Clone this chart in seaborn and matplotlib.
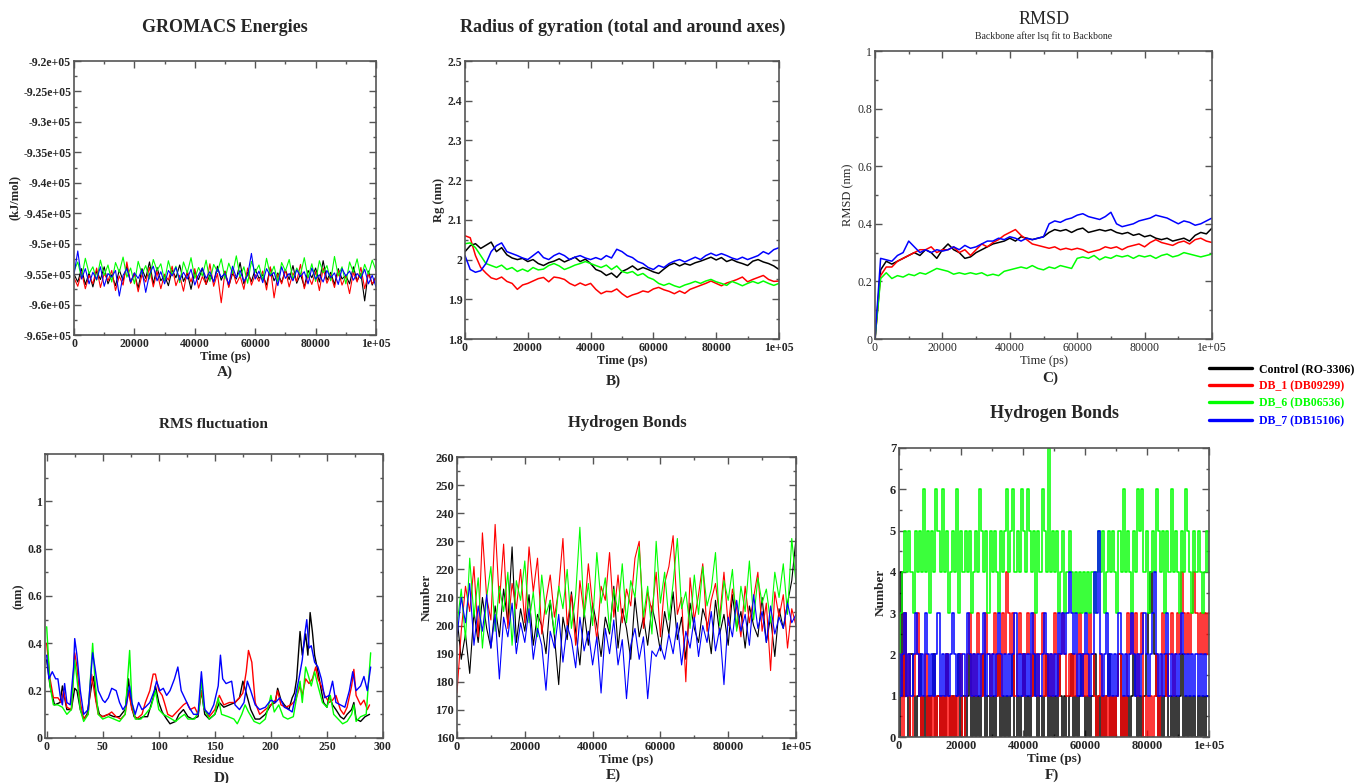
import numpy as np
import matplotlib
matplotlib.use("Agg")
import matplotlib.pyplot as plt
from matplotlib.lines import Line2D
import seaborn as sns

# ---- values ----
series_names = ["Control (RO-3306)", "DB_1 (DB09299)", "DB_6 (DB06536)", "DB_7 (DB15106)"]
series_colors = ["#000000", "#ff0000", "#00ff00", "#0000ff"]
time_ticks = [0, 20000, 40000, 60000, 80000, 100000]

# A) GROMACS energies, in units of 1e5 kJ/mol, evenly spaced over 0-100000 ps
energy_control = [-9.550, -9.563, -9.541, -9.567, -9.548, -9.571, -9.545, -9.559, -9.538, -9.566, -9.551, -9.569,
                  -9.543, -9.561, -9.537, -9.564, -9.549, -9.573, -9.541, -9.557, -9.530, -9.566, -9.539, -9.561,
                  -9.552, -9.569, -9.543, -9.556, -9.535, -9.562, -9.548, -9.575, -9.546, -9.559, -9.540, -9.567,
                  -9.551, -9.563, -9.537, -9.560, -9.545, -9.570, -9.549, -9.558, -9.531, -9.566, -9.547, -9.562,
                  -9.542, -9.557, -9.551, -9.568, -9.539, -9.561, -9.548, -9.564, -9.543, -9.559, -9.536, -9.565,
                  -9.550, -9.571, -9.544, -9.556, -9.540, -9.563, -9.528, -9.560, -9.547, -9.567, -9.541, -9.558,
                  -9.552, -9.566, -9.538, -9.561, -9.549, -9.594, -9.545, -9.568, -9.553]
energy_db1 = [-9.556, -9.570, -9.547, -9.574, -9.552, -9.566, -9.540, -9.572, -9.549, -9.561, -9.544, -9.577,
              -9.553, -9.568, -9.530, -9.565, -9.548, -9.579, -9.551, -9.563, -9.539, -9.571, -9.546, -9.574,
              -9.550, -9.560, -9.537, -9.569, -9.552, -9.578, -9.545, -9.563, -9.541, -9.573, -9.554, -9.567,
              -9.533, -9.570, -9.549, -9.597, -9.546, -9.572, -9.543, -9.566, -9.553, -9.575, -9.540, -9.568,
              -9.551, -9.562, -9.545, -9.576, -9.538, -9.589, -9.550, -9.566, -9.543, -9.571, -9.548, -9.562,
              -9.534, -9.574, -9.552, -9.567, -9.546, -9.577, -9.540, -9.565, -9.551, -9.572, -9.544, -9.568,
              -9.553, -9.582, -9.547, -9.563, -9.539, -9.574, -9.549, -9.566, -9.556]
energy_db6 = [-9.545, -9.530, -9.556, -9.524, -9.549, -9.538, -9.560, -9.527, -9.552, -9.535, -9.563, -9.531,
              -9.547, -9.522, -9.555, -9.540, -9.566, -9.529, -9.550, -9.536, -9.558, -9.526, -9.544, -9.533,
              -9.561, -9.528, -9.551, -9.537, -9.564, -9.530, -9.548, -9.523, -9.557, -9.539, -9.553, -9.527,
              -9.562, -9.534, -9.546, -9.525, -9.558, -9.532, -9.549, -9.520, -9.555, -9.538, -9.565, -9.529,
              -9.547, -9.535, -9.560, -9.524, -9.552, -9.537, -9.563, -9.531, -9.545, -9.526, -9.559, -9.540,
              -9.551, -9.523, -9.556, -9.533, -9.562, -9.528, -9.548, -9.536, -9.561, -9.521, -9.553, -9.538,
              -9.566, -9.530, -9.547, -9.525, -9.557, -9.534, -9.550, -9.527, -9.544]
energy_db7 = [-9.551, -9.512, -9.558, -9.541, -9.566, -9.547, -9.559, -9.538, -9.570, -9.549, -9.555, -9.544,
              -9.586, -9.552, -9.541, -9.563, -9.548, -9.557, -9.543, -9.580, -9.550, -9.537, -9.561, -9.546,
              -9.566, -9.544, -9.553, -9.539, -9.560, -9.547, -9.558, -9.542, -9.568, -9.551, -9.540, -9.557,
              -9.546, -9.563, -9.541, -9.555, -9.549, -9.567, -9.537, -9.556, -9.544, -9.562, -9.552, -9.516,
              -9.558, -9.545, -9.564, -9.541, -9.553, -9.547, -9.569, -9.538, -9.557, -9.549, -9.561, -9.543,
              -9.554, -9.546, -9.566, -9.540, -9.558, -9.551, -9.563, -9.544, -9.556, -9.548, -9.567, -9.541,
              -9.553, -9.545, -9.560, -9.549, -9.557, -9.542, -9.566, -9.552, -9.571]

# B) radius of gyration (nm)
rg_control = [2.02, 2.035, 2.04, 2.028, 2.036, 2.044, 2.02, 2.03, 2.012, 2.004, 2.0, 2.003, 1.995, 2.0, 1.99, 1.985,
              1.992, 1.996, 2.002, 1.994, 2.0, 2.006, 1.995, 2.001, 1.99, 1.975, 1.97, 1.96, 1.966, 1.955, 1.97,
              1.976, 1.984, 1.974, 1.98, 1.975, 1.969, 1.965, 1.976, 1.986, 1.991, 1.984, 1.99, 1.986, 1.992, 1.996,
              2.001, 2.006, 1.999, 2.005, 1.995, 2.0, 1.994, 1.99, 1.985, 1.996, 2.0, 1.994, 1.99, 1.984, 1.975]
rg_db1 = [2.06, 2.055, 2.01, 1.98, 1.966, 1.954, 1.95, 1.956, 1.945, 1.94, 1.925, 1.936, 1.94, 1.946, 1.952, 1.955,
          1.944, 1.956, 1.954, 1.95, 1.94, 1.934, 1.941, 1.935, 1.94, 1.925, 1.914, 1.92, 1.919, 1.926, 1.914,
          1.905, 1.911, 1.915, 1.921, 1.918, 1.926, 1.93, 1.924, 1.92, 1.914, 1.921, 1.915, 1.925, 1.93, 1.935,
          1.94, 1.946, 1.94, 1.934, 1.941, 1.945, 1.95, 1.956, 1.944, 1.95, 1.955, 1.96, 1.95, 1.945, 1.946]
rg_db6 = [2.04, 2.042, 2.03, 2.01, 1.99, 1.985, 1.98, 1.986, 1.975, 1.98, 1.97, 1.976, 1.97, 1.98, 1.974, 1.976,
          1.985, 1.99, 1.984, 1.975, 1.98, 1.986, 1.99, 1.995, 1.99, 1.985, 1.98, 1.986, 1.975, 1.984, 1.97, 1.966,
          1.97, 1.96, 1.965, 1.955, 1.95, 1.94, 1.935, 1.94, 1.934, 1.93, 1.936, 1.94, 1.945, 1.94, 1.946, 1.95,
          1.944, 1.94, 1.935, 1.945, 1.94, 1.934, 1.94, 1.945, 1.94, 1.946, 1.94, 1.935, 1.94]
rg_db7 = [2.01, 1.975, 1.968, 1.972, 1.99, 2.02, 2.035, 2.042, 2.02, 2.015, 2.01, 2.004, 2.0, 2.01, 2.02, 2.005,
          2.0, 2.01, 2.016, 2.01, 2.0, 2.006, 2.01, 2.004, 2.0, 2.005, 2.0, 2.01, 2.004, 2.026, 2.02, 2.01, 2.005,
          1.995, 1.99, 1.98, 1.975, 1.985, 1.98, 1.99, 1.996, 2.0, 1.994, 2.0, 2.006, 2.0, 2.01, 2.016, 2.01,
          2.015, 2.01, 2.004, 2.0, 2.006, 2.0, 2.005, 2.01, 2.02, 2.014, 2.025, 2.03]

# C) backbone RMSD (nm)
rmsd_control = [0.0, 0.24, 0.27, 0.26, 0.27, 0.28, 0.29, 0.30, 0.29, 0.31, 0.30, 0.28, 0.31, 0.33, 0.31, 0.30, 0.28,
                0.285, 0.30, 0.31, 0.32, 0.33, 0.335, 0.34, 0.35, 0.34, 0.355, 0.35, 0.345, 0.35, 0.355, 0.37, 0.38,
                0.375, 0.38, 0.37, 0.38, 0.385, 0.37, 0.375, 0.38, 0.375, 0.38, 0.37, 0.365, 0.37, 0.36, 0.365,
                0.355, 0.36, 0.35, 0.345, 0.35, 0.34, 0.345, 0.35, 0.34, 0.36, 0.37, 0.365, 0.385]
rmsd_db1 = [0.0, 0.22, 0.25, 0.25, 0.27, 0.28, 0.29, 0.30, 0.31, 0.31, 0.32, 0.30, 0.31, 0.31, 0.32, 0.30, 0.31,
            0.29, 0.31, 0.33, 0.32, 0.335, 0.345, 0.36, 0.37, 0.38, 0.36, 0.345, 0.33, 0.325, 0.32, 0.315, 0.32,
            0.31, 0.315, 0.31, 0.315, 0.31, 0.30, 0.305, 0.31, 0.32, 0.315, 0.32, 0.31, 0.32, 0.325, 0.33, 0.32,
            0.335, 0.345, 0.335, 0.33, 0.325, 0.335, 0.34, 0.33, 0.345, 0.35, 0.34, 0.335]
rmsd_db6 = [0.0, 0.21, 0.23, 0.21, 0.22, 0.215, 0.225, 0.22, 0.23, 0.225, 0.235, 0.245, 0.24, 0.235, 0.225, 0.23,
            0.225, 0.23, 0.225, 0.23, 0.22, 0.225, 0.22, 0.235, 0.24, 0.245, 0.25, 0.245, 0.255, 0.245, 0.24, 0.25,
            0.245, 0.255, 0.25, 0.245, 0.28, 0.285, 0.28, 0.29, 0.275, 0.285, 0.28, 0.29, 0.285, 0.29, 0.28, 0.29,
            0.285, 0.29, 0.28, 0.29, 0.295, 0.285, 0.29, 0.30, 0.295, 0.29, 0.285, 0.29, 0.295]
rmsd_db7 = [0.0, 0.28, 0.275, 0.27, 0.29, 0.30, 0.34, 0.32, 0.30, 0.31, 0.30, 0.31, 0.305, 0.31, 0.32, 0.31, 0.325,
            0.315, 0.32, 0.33, 0.34, 0.34, 0.35, 0.345, 0.355, 0.35, 0.34, 0.35, 0.345, 0.35, 0.355, 0.40, 0.41,
            0.405, 0.415, 0.42, 0.43, 0.435, 0.425, 0.42, 0.415, 0.425, 0.44, 0.40, 0.39, 0.395, 0.40, 0.41, 0.415,
            0.42, 0.43, 0.425, 0.42, 0.41, 0.40, 0.41, 0.405, 0.395, 0.40, 0.41, 0.42]

# D) RMS fluctuation (nm), (residue, value) pairs
rmsf_control = [(0, 0.33), (3, 0.22), (7, 0.14), (12, 0.15), (14, 0.22), (18, 0.12), (22, 0.12), (25, 0.21),
                (27, 0.20), (30, 0.12), (33, 0.08), (36, 0.10), (40, 0.22), (42, 0.26), (44, 0.16), (47, 0.10),
                (50, 0.09), (55, 0.10), (60, 0.09), (65, 0.09), (70, 0.12), (73, 0.25), (75, 0.15), (78, 0.09),
                (82, 0.08), (86, 0.09), (90, 0.09), (95, 0.17), (97, 0.22), (100, 0.15), (103, 0.11), (107, 0.08),
                (110, 0.06), (115, 0.07), (118, 0.10), (122, 0.12), (126, 0.09), (130, 0.08), (135, 0.09),
                (138, 0.20), (141, 0.10), (145, 0.08), (150, 0.10), (154, 0.15), (158, 0.13), (163, 0.14),
                (168, 0.15), (172, 0.17), (175, 0.24), (178, 0.19), (182, 0.12), (186, 0.08), (190, 0.08),
                (195, 0.10), (200, 0.14), (204, 0.15), (206, 0.21), (209, 0.16), (212, 0.14), (216, 0.12),
                (219, 0.17), (221, 0.19), (223, 0.25), (226, 0.45), (228, 0.35), (231, 0.44), (233, 0.35),
                (235, 0.53), (237, 0.45), (239, 0.35), (242, 0.28), (245, 0.20), (247, 0.15), (250, 0.13),
                (252, 0.18), (255, 0.14), (258, 0.12), (262, 0.09), (265, 0.08), (268, 0.10), (272, 0.12),
                (274, 0.15), (276, 0.08), (280, 0.07), (284, 0.09), (288, 0.10)]
rmsf_db1 = [(0, 0.40), (3, 0.25), (6, 0.17), (10, 0.17), (13, 0.15), (15, 0.20), (18, 0.13), (22, 0.12),
            (25, 0.36), (27, 0.30), (30, 0.15), (33, 0.08), (37, 0.10), (40, 0.27), (43, 0.18), (46, 0.10),
            (50, 0.09), (55, 0.10), (58, 0.11), (62, 0.09), (66, 0.08), (70, 0.10), (73, 0.20), (76, 0.12),
            (80, 0.08), (85, 0.10), (88, 0.15), (92, 0.20), (95, 0.27), (97, 0.27), (100, 0.20), (103, 0.18),
            (105, 0.15), (108, 0.10), (112, 0.09), (118, 0.12), (122, 0.14), (125, 0.15), (128, 0.12),
            (132, 0.13), (135, 0.10), (138, 0.20), (141, 0.12), (145, 0.09), (150, 0.12), (154, 0.18),
            (158, 0.14), (163, 0.15), (168, 0.15), (172, 0.17), (175, 0.19), (178, 0.28), (180, 0.37),
            (183, 0.32), (186, 0.15), (190, 0.10), (195, 0.12), (200, 0.14), (204, 0.16), (206, 0.20),
            (209, 0.14), (213, 0.13), (218, 0.14), (222, 0.16), (226, 0.22), (228, 0.18), (231, 0.25),
            (234, 0.23), (237, 0.25), (240, 0.30), (242, 0.25), (245, 0.22), (248, 0.18), (252, 0.15),
            (255, 0.16), (258, 0.18), (262, 0.12), (265, 0.10), (268, 0.13), (272, 0.22), (274, 0.29),
            (276, 0.18), (280, 0.14), (283, 0.16), (286, 0.12), (288, 0.14)]
rmsf_db6 = [(0, 0.47), (3, 0.22), (6, 0.14), (10, 0.14), (14, 0.13), (18, 0.10), (22, 0.12), (25, 0.33),
            (27, 0.25), (30, 0.12), (33, 0.07), (37, 0.10), (41, 0.40), (43, 0.25), (46, 0.10), (50, 0.08),
            (55, 0.09), (60, 0.08), (65, 0.07), (70, 0.10), (74, 0.37), (76, 0.15), (79, 0.08), (84, 0.08),
            (88, 0.10), (93, 0.13), (97, 0.20), (100, 0.12), (104, 0.10), (108, 0.09), (115, 0.07), (120, 0.09),
            (123, 0.10), (126, 0.08), (132, 0.08), (136, 0.12), (138, 0.25), (140, 0.13), (145, 0.08),
            (150, 0.10), (153, 0.17), (156, 0.10), (162, 0.09), (167, 0.08), (170, 0.06), (174, 0.10),
            (177, 0.14), (180, 0.11), (185, 0.07), (190, 0.06), (195, 0.08), (200, 0.18), (203, 0.11),
            (207, 0.14), (211, 0.09), (215, 0.08), (220, 0.09), (224, 0.20), (226, 0.24), (228, 0.15),
            (231, 0.30), (233, 0.27), (236, 0.22), (239, 0.28), (242, 0.22), (246, 0.15), (250, 0.13),
            (253, 0.18), (256, 0.10), (260, 0.08), (264, 0.06), (268, 0.07), (272, 0.10), (274, 0.14),
            (276, 0.07), (280, 0.09), (285, 0.10), (289, 0.36)]
rmsf_db7 = [(0, 0.35), (2, 0.25), (5, 0.28), (8, 0.25), (10, 0.25), (12, 0.18), (14, 0.14), (16, 0.23),
            (18, 0.15), (21, 0.14), (24, 0.30), (25, 0.42), (27, 0.35), (30, 0.20), (33, 0.10), (37, 0.12),
            (40, 0.30), (41, 0.36), (43, 0.30), (46, 0.20), (50, 0.16), (52, 0.15), (55, 0.17), (58, 0.21),
            (62, 0.20), (65, 0.15), (68, 0.12), (71, 0.14), (74, 0.22), (76, 0.15), (79, 0.10), (82, 0.15),
            (85, 0.12), (88, 0.13), (92, 0.15), (96, 0.20), (98, 0.24), (101, 0.20), (104, 0.21), (107, 0.18),
            (110, 0.20), (114, 0.25), (117, 0.30), (120, 0.20), (123, 0.17), (127, 0.13), (131, 0.10),
            (135, 0.10), (138, 0.28), (141, 0.12), (145, 0.10), (149, 0.14), (153, 0.22), (155, 0.35),
            (157, 0.25), (160, 0.23), (165, 0.24), (168, 0.14), (172, 0.12), (176, 0.15), (179, 0.24),
            (182, 0.20), (186, 0.14), (190, 0.12), (195, 0.13), (200, 0.16), (204, 0.15), (208, 0.17),
            (212, 0.13), (216, 0.12), (219, 0.11), (222, 0.18), (225, 0.25), (228, 0.33), (230, 0.43),
            (232, 0.50), (234, 0.38), (236, 0.39), (239, 0.32), (242, 0.30), (245, 0.25), (248, 0.17),
            (252, 0.18), (255, 0.24), (258, 0.15), (262, 0.14), (266, 0.13), (270, 0.20), (273, 0.28),
            (276, 0.20), (280, 0.22), (283, 0.26), (286, 0.20), (289, 0.30)]

# E) protein hydrogen bonds
hb_control = [203, 188, 197, 183, 205, 194, 210, 199, 192, 207, 196, 213, 201, 228, 194, 206, 198, 211, 193, 204,
              200, 190, 209, 196, 179, 203, 195, 212, 198, 186, 205, 193, 208, 200, 189, 203, 197, 214, 192, 206,
              199, 188, 210, 196, 203, 193, 207, 200, 191, 205, 197, 212, 195, 203, 188, 208, 199, 194, 206, 201,
              190, 209, 197, 204, 193, 211, 199, 205, 192, 207, 200, 196, 210, 194, 203, 189, 206, 199, 208, 216, 231]
hb_db1 = [176, 198, 214, 205, 221, 196, 233, 210, 202, 236, 208, 229, 199, 215, 206, 220, 201, 228, 212, 224, 197,
          209, 218, 203, 213, 231, 200, 211, 193, 216, 204, 222, 207, 195, 214, 209, 226, 203, 218, 201, 213, 207,
          224, 230, 199, 212, 205, 219, 196, 215, 221, 232, 204, 210, 180, 217, 202, 211, 222, 198, 209, 215, 203,
          219, 200, 213, 206, 196, 214, 201, 210, 219, 198, 208, 184, 212, 203, 211, 192, 206, 200]
hb_db6 = [200, 213, 195, 224, 203, 217, 192, 210, 221, 198, 214, 205, 219, 193, 216, 209, 223, 201, 212, 196, 218,
          204, 209, 197, 214, 206, 220, 199, 211, 235, 203, 215, 200, 226, 208, 217, 198, 213, 205, 222, 201, 216,
          210, 228, 203, 214, 197, 230, 208, 219, 202, 215, 231, 206, 212, 199, 218, 204, 221, 207, 213, 226, 200,
          216, 209, 220, 198, 214, 205, 223, 202, 217, 208, 213, 201, 219, 210, 222, 204, 231, 215]
hb_db7 = [196, 210, 201, 215, 193, 207, 198, 211, 192, 204, 181, 203, 196, 208, 190, 201, 194, 206, 188, 199, 193,
          177, 198, 192, 204, 187, 200, 195, 185, 203, 191, 198, 186, 196, 176, 199, 190, 202, 186, 195, 174, 193,
          199, 188, 196, 174, 191, 189, 193, 188, 197, 190, 201, 186, 198, 192, 203, 189, 200, 194, 205, 191, 199,
          179, 203, 196, 209, 198, 204, 193, 211, 199, 205, 194, 207, 197, 203, 199, 208, 201, 204]

# F) ligand-protein hydrogen bonds
lig_control = [0, 4, 1, 3, 1, 0, 2, 1, 0, 1, 2, 0, 1, 0, 1, 0, 1, 2, 0, 1, 0, 1, 0, 2, 1, 0, 1, 0, 1, 2, 0, 1, 0, 1,
               2, 0, 1, 0, 1, 0, 1, 2, 0, 1, 0, 1, 0, 1, 2, 0, 1, 0, 1, 0, 1, 2, 0, 1, 0, 1, 2, 0, 1, 0, 1, 2, 1, 0,
               1, 0, 1, 2, 0, 1, 0, 1, 0, 2, 1, 0, 1, 0, 1, 2, 0, 1, 0, 1, 2, 1, 0, 1, 0, 1, 2, 0, 1, 0, 1, 0, 1, 2,
               0, 1, 0, 1, 2, 0, 1, 0, 1, 0, 1, 2, 1, 0, 1, 0, 1, 2, 3, 4, 3, 2, 1, 0, 1, 0, 1, 2, 0, 1, 0, 1, 0, 1,
               2, 0, 1, 0, 1, 0, 1, 0, 1, 0, 1, 0, 1, 1]
lig_db1 = [1, 2, 0, 3, 1, 2, 0, 1, 2, 3, 1, 0, 1, 2, 0, 1, 0, 1, 0, 1, 0, 1, 0, 2, 0, 1, 0, 1, 0, 1, 2, 0, 1, 2, 3,
           1, 2, 1, 3, 2, 1, 2, 3, 2, 1, 2, 3, 1, 2, 1, 3, 2, 4, 3, 2, 3, 1, 2, 3, 2, 1, 2, 3, 2, 1, 3, 2, 1, 2, 3,
           1, 2, 1, 2, 1, 3, 2, 1, 2, 3, 2, 1, 2, 1, 2, 1, 2, 3, 2, 1, 2, 1, 3, 2, 1, 0, 1, 2, 0, 1, 0, 1, 0, 1, 0,
           1, 2, 0, 1, 0, 3, 2, 3, 2, 3, 1, 2, 3, 0, 1, 0, 1, 0, 1, 2, 0, 1, 3, 2, 1, 2, 3, 1, 2, 3, 2, 4, 3, 2, 3,
           2, 3, 4, 3, 2, 3, 2, 3, 2, 3]
lig_db6 = [1, 3, 4, 5, 4, 5, 4, 3, 5, 4, 5, 4, 6, 4, 5, 3, 5, 4, 6, 5, 4, 6, 4, 5, 3, 4, 5, 4, 6, 3, 5, 4, 5, 4, 5,
           3, 4, 5, 4, 6, 5, 4, 5, 3, 5, 4, 5, 4, 3, 5, 4, 5, 6, 4, 5, 6, 4, 5, 4, 6, 5, 4, 6, 5, 4, 5, 3, 5, 4, 6,
           5, 4, 7, 4, 5, 4, 5, 3, 4, 5, 3, 4, 5, 4, 3, 4, 3, 4, 3, 4, 3, 4, 3, 4, 3, 4, 5, 4, 5, 3, 4, 5, 4, 5, 4,
           3, 5, 4, 6, 4, 5, 4, 3, 5, 4, 6, 5, 6, 4, 5, 3, 4, 5, 4, 6, 5, 4, 5, 3, 5, 4, 6, 4, 5, 4, 3, 5, 4, 6, 5,
           4, 3, 5, 4, 5, 4, 3, 4, 5, 4]
lig_db7 = [2, 1, 2, 3, 1, 2, 1, 2, 3, 2, 1, 2, 1, 3, 2, 1, 2, 1, 2, 3, 1, 2, 1, 2, 1, 2, 3, 2, 1, 2, 1, 2, 1, 3, 2,
           1, 2, 1, 2, 1, 2, 3, 1, 2, 1, 2, 1, 2, 3, 2, 1, 2, 1, 2, 1, 2, 3, 1, 2, 1, 2, 1, 2, 1, 3, 2, 1, 2, 1, 2,
           3, 2, 1, 2, 1, 2, 1, 3, 2, 3, 2, 3, 4, 3, 2, 3, 1, 2, 1, 2, 3, 2, 1, 2, 4, 3, 5, 2, 1, 2, 3, 1, 2, 1, 2,
           1, 3, 2, 1, 2, 1, 2, 3, 2, 1, 2, 1, 2, 3, 2, 1, 2, 3, 4, 2, 1, 2, 1, 2, 3, 1, 2, 1, 2, 1, 2, 3, 2, 1, 2,
           1, 2, 1, 2, 1, 2, 1, 2, 1, 1]

# ---- figure ----
sns.set_style("ticks")
plt.rcParams["font.family"] = ["Liberation Serif", "DejaVu Serif"]

W, H = 1357, 783
fig = plt.figure(figsize=(W / 100, H / 100), dpi=100)
EDGE = "#555555"


def box(left, top, right, bottom):
    return [left / W, 1 - bottom / H, (right - left) / W, (bottom - top) / H]


def ftext(x, y, s, **kw):
    fig.text(x / W, 1 - y / H, s, ha="center", va="center", **kw)


def time_lines(ax, series, lw, **kw):
    for y, c in zip(series, series_colors):
        t = np.linspace(0, 100000, len(y))
        sns.lineplot(x=t, y=y, color=c, linewidth=lw, ax=ax, legend=False, **kw)


def style(ax, xlim, ylim, xmaj, xmin, ymaj, ymin, xlab, ylab, size=8.5, weight="bold", xfmt=None, yfmt=None):
    ax.set_xlim(xlim)
    ax.set_ylim(ylim)
    if xfmt is None:
        xfmt = lambda v: "1e+05" if v == 100000 else f"{v:.0f}"
    if yfmt is None:
        yfmt = lambda v: f"{v:g}"
    ax.set_xticks(xmaj, [xfmt(v) for v in xmaj], fontsize=size, fontweight=weight)
    ax.set_xticks(xmin, minor=True)
    ax.set_yticks(ymaj, [yfmt(v) for v in ymaj], fontsize=size, fontweight=weight)
    ax.set_yticks(ymin, minor=True)
    ax.tick_params(which="both", direction="in", top=True, right=True, color=EDGE, width=1, pad=2)
    ax.tick_params(which="major", length=5)
    ax.tick_params(which="minor", length=2.5)
    for s in ax.spines.values():
        s.set_color(EDGE)
        s.set_linewidth(1.2)
    ax.set_xlabel(xlab, fontsize=size + 0.5, fontweight=weight, labelpad=1)
    ax.set_ylabel(ylab, fontsize=size + 0.5, fontweight=weight, labelpad=2)


minor_time = np.arange(0, 100001, 10000)

# A
axA = fig.add_axes(box(74, 61, 376, 335))
time_lines(axA, [energy_control, energy_db1, energy_db6, energy_db7], 0.8)
yA = [round(v, 2) for v in np.arange(-9.65, -9.199, 0.05)]
style(axA, (0, 100000), (-9.65, -9.2), time_ticks, minor_time, yA, np.arange(-9.65, -9.199, 0.025),
      "Time (ps)", "(kJ/mol)", yfmt=lambda v: f"{v:g}e+05")
ftext(225, 27, "GROMACS Energies", fontsize=13, fontweight="bold")
ftext(225, 372, "A)", fontsize=11, fontweight="bold")

# B
axB = fig.add_axes(box(465, 61, 779, 339))
time_lines(axB, [rg_control, rg_db1, rg_db6, rg_db7], 1.1)
yB = [round(v, 1) for v in np.arange(1.8, 2.501, 0.1)]
style(axB, (0, 100000), (1.8, 2.5), time_ticks, minor_time, yB, np.arange(1.8, 2.501, 0.05),
      "Time (ps)", "Rg (nm)")
ftext(623, 27, "Radius of gyration (total and around axes)", fontsize=13, fontweight="bold")
ftext(613, 381, "B)", fontsize=11, fontweight="bold")

# C
axC = fig.add_axes(box(875, 51, 1212, 339))
time_lines(axC, [rmsd_control, rmsd_db1, rmsd_db6, rmsd_db7], 1.1)
yC = [round(v, 1) for v in np.arange(0, 1.001, 0.2)]
style(axC, (0, 100000), (0, 1), time_ticks, minor_time, yC, np.arange(0, 1.001, 0.1),
      "Time (ps)", "RMSD (nm)", weight="normal")
ftext(1044, 19, "RMSD", fontsize=13)
ftext(1044, 36, "Backbone after lsq fit to Backbone", fontsize=7)
ftext(1050, 378, "C)", fontsize=11, fontweight="bold")

# D
axD = fig.add_axes(box(45, 454, 383, 738))
for pairs, c in zip([rmsf_control, rmsf_db1, rmsf_db6, rmsf_db7], series_colors):
    res, val = zip(*pairs)
    sns.lineplot(x=list(res), y=list(val), color=c, linewidth=1.0, ax=axD, legend=False)
yD = [round(v, 1) for v in np.arange(0, 1.001, 0.2)]
style(axD, (-1.5, 300), (0, 1.2), list(range(0, 301, 50)), list(range(0, 301, 25)), yD,
      np.arange(0, 1.201, 0.1), "Residue", "(nm)", xfmt=lambda v: f"{v:.0f}")
ftext(213, 425, "RMS fluctuation", fontsize=11, fontweight="bold")
ftext(222, 778, "D)", fontsize=11, fontweight="bold")

# E
axE = fig.add_axes(box(457, 457, 796, 738))
time_lines(axE, [hb_control, hb_db1, hb_db6, hb_db7], 0.8)
style(axE, (0, 100000), (160, 260), time_ticks, minor_time, list(range(160, 261, 10)),
      list(range(160, 261, 5)), "Time (ps)", "Number", size=9)
ftext(627, 423, "Hydrogen Bonds", fontsize=12, fontweight="bold")
ftext(613, 775, "E)", fontsize=11, fontweight="bold")

# F
axF = fig.add_axes(box(899, 448, 1209, 737))
time_lines(axF, [lig_control, lig_db1, lig_db6, lig_db7], 1.1, drawstyle="steps-mid")
style(axF, (0, 100000), (0, 7), time_ticks, minor_time, list(range(0, 8)),
      np.arange(0, 7.01, 0.5), "Time (ps)", "Number", size=9)
ftext(1055, 413, "Hydrogen Bonds", fontsize=13, fontweight="bold")
ftext(1052, 775, "F)", fontsize=11, fontweight="bold")

# legend
handles = [Line2D([], [], color=c, linewidth=2.4) for c in series_colors]
fig.legend(handles, series_names, loc="upper left", bbox_to_anchor=(1209 / W, 1 - 363 / H),
           frameon=False, handlelength=3.6, handletextpad=0.6, labelspacing=0.45, borderpad=0,
           borderaxespad=0, labelcolor=series_colors, prop={"weight": "bold", "size": 8.5})

fig.savefig("out.png", dpi=100)
